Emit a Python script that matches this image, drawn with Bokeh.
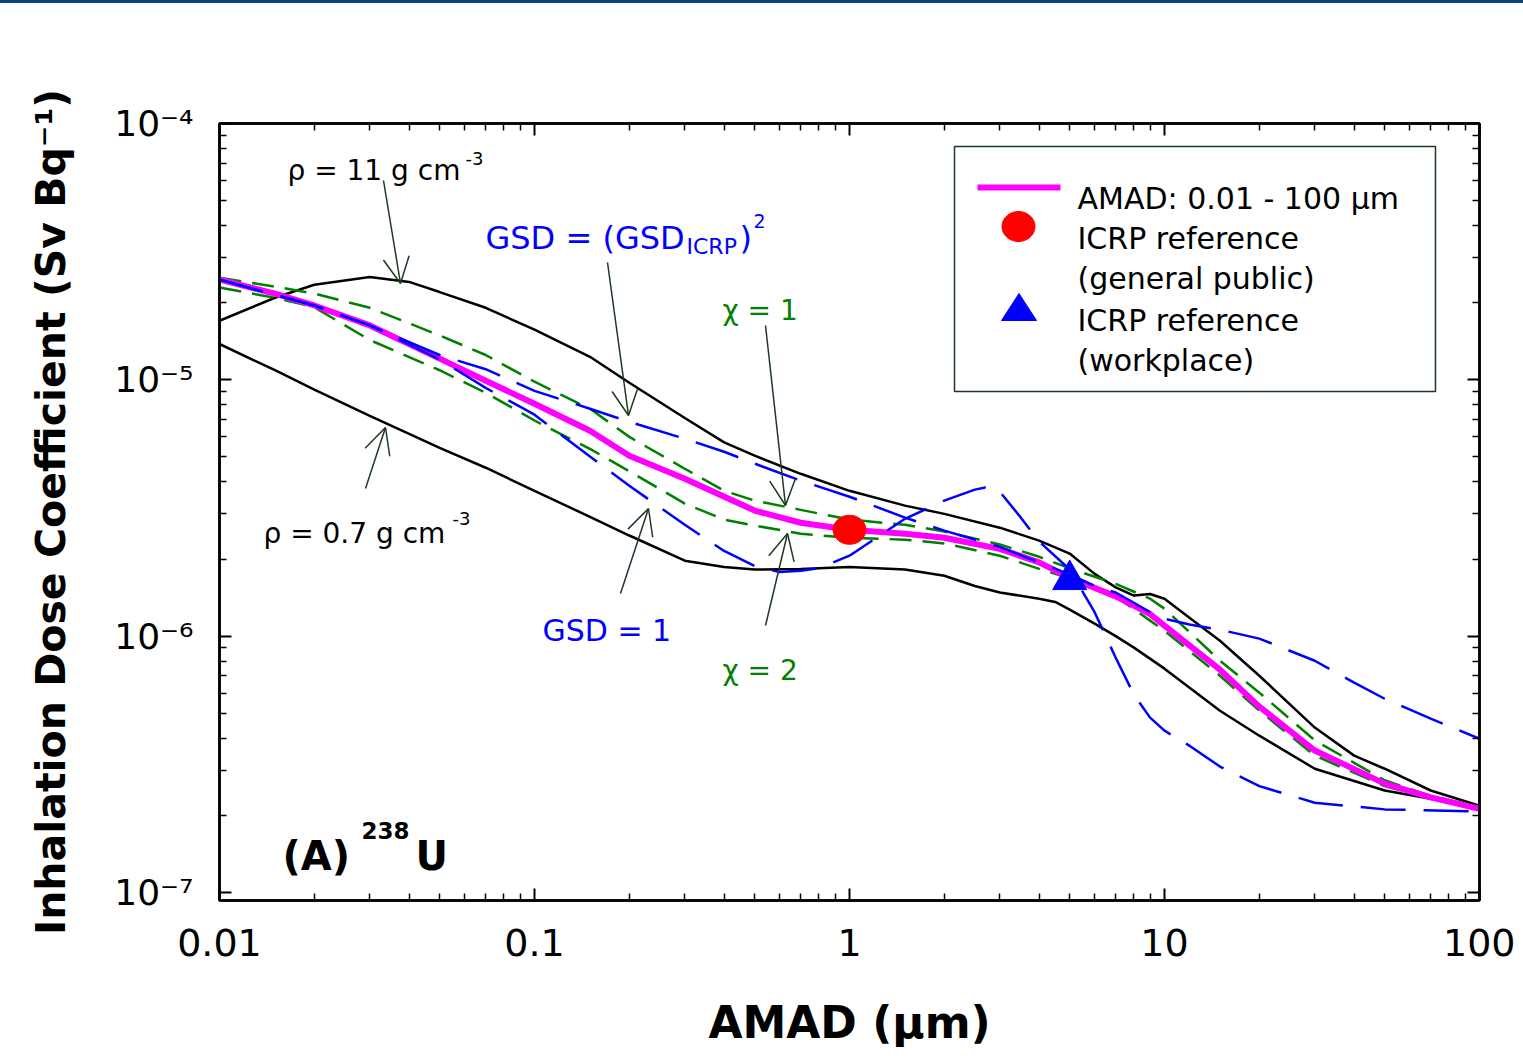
import numpy as np
from bokeh.plotting import figure
from bokeh.models import (Range1d, LogAxis, FixedTicker, CustomJSTickFormatter, Label,
                          Arrow, OpenHead, BoxAnnotation, PolyAnnotation, Div)
from bokeh.layouts import column
from bokeh.embed import file_html
from bokeh.resources import INLINE

# ---------------- data ----------------
amad_x = [0.01, 0.015, 0.02, 0.03, 0.05, 0.07, 0.1, 0.15, 0.2, 0.3, 0.5, 0.7, 1, 1.5, 2, 3, 4, 5, 7, 9, 10, 15, 20, 30, 50, 70, 100]
amad_y = [2.46e-5, 2.17e-5, 1.95e-5, 1.63e-5, 1.21e-5, 9.92e-6, 8.07e-6, 6.33e-6, 5.06e-6, 4.11e-6, 3.09e-6, 2.77e-6, 2.60e-6, 2.51e-6, 2.42e-6, 2.19e-6, 1.94e-6, 1.69e-6, 1.43e-6, 1.22e-6, 1.10e-6, 7.40e-7, 5.31e-7, 3.58e-7, 2.66e-7, 2.35e-7, 2.12e-7]

rho11_x = [0.01, 0.015, 0.02, 0.03, 0.04, 0.05, 0.07, 0.1, 0.15, 0.2, 0.3, 0.4, 0.5, 0.7, 1, 1.5, 2, 3, 4, 5, 6, 7, 8, 9, 10, 12, 15, 20, 30, 40, 50, 70, 100]
rho11_y = [1.70e-5, 2.09e-5, 2.35e-5, 2.52e-5, 2.41e-5, 2.20e-5, 1.91e-5, 1.57e-5, 1.23e-5, 9.74e-6, 7.10e-6, 5.70e-6, 5.06e-6, 4.30e-6, 3.69e-6, 3.23e-6, 3.00e-6, 2.65e-6, 2.36e-6, 2.10e-6, 1.75e-6, 1.55e-6, 1.44e-6, 1.46e-6, 1.40e-6, 1.18e-6, 9.60e-7, 7.01e-7, 4.40e-7, 3.42e-7, 3.04e-7, 2.50e-7, 2.18e-7]

rho07_x = [0.01, 0.015, 0.02, 0.03, 0.04, 0.05, 0.07, 0.1, 0.15, 0.2, 0.3, 0.4, 0.5, 0.7, 1, 1.5, 2, 2.5, 3, 4, 4.5, 5, 6, 7, 8, 10, 15, 20, 30, 50, 70, 100]
rho07_y = [1.38e-5, 1.09e-5, 9.15e-6, 7.24e-6, 6.16e-6, 5.43e-6, 4.54e-6, 3.69e-6, 2.92e-6, 2.47e-6, 1.97e-6, 1.86e-6, 1.82e-6, 1.83e-6, 1.86e-6, 1.82e-6, 1.72e-6, 1.57e-6, 1.48e-6, 1.40e-6, 1.36e-6, 1.27e-6, 1.12e-6, 1.00e-6, 9.02e-7, 7.47e-7, 5.12e-7, 4.09e-7, 3.04e-7, 2.50e-7, 2.32e-7, 2.14e-7]

gsd1_x = [0.01, 0.02, 0.03, 0.05, 0.07, 0.1, 0.15, 0.2, 0.3, 0.4, 0.5, 0.6, 0.7, 0.8, 1, 1.5, 2, 2.5, 2.7, 3, 3.5, 4, 5, 6, 7, 8, 9, 10, 12, 15, 20, 30, 50, 100]
gsd1_y = [2.46e-5, 1.95e-5, 1.63e-5, 1.20e-5, 9.30e-6, 7.31e-6, 5.02e-6, 3.86e-6, 2.72e-6, 2.15e-6, 1.88e-6, 1.78e-6, 1.80e-6, 1.84e-6, 2.06e-6, 2.87e-6, 3.38e-6, 3.73e-6, 3.80e-6, 3.66e-6, 2.90e-6, 2.34e-6, 1.82e-6, 1.24e-6, 8.24e-7, 5.91e-7, 4.81e-7, 4.28e-7, 3.74e-7, 3.10e-7, 2.60e-7, 2.24e-7, 2.11e-7, 2.07e-7]

gsd2_x = [0.01, 0.02, 0.03, 0.05, 0.07, 0.1, 0.15, 0.2, 0.3, 0.4, 0.5, 0.7, 1, 1.5, 2, 3, 4, 5, 6, 7, 8, 9, 10, 12, 15, 20, 30, 40, 50, 70, 100]
gsd2_y = [2.46e-5, 1.95e-5, 1.63e-5, 1.25e-5, 1.10e-5, 9.06e-6, 7.71e-6, 6.86e-6, 5.89e-6, 5.24e-6, 4.71e-6, 4.04e-6, 3.50e-6, 2.90e-6, 2.58e-6, 2.23e-6, 1.94e-6, 1.74e-6, 1.57e-6, 1.48e-6, 1.35e-6, 1.24e-6, 1.17e-6, 1.11e-6, 1.06e-6, 9.78e-7, 8.02e-7, 6.59e-7, 5.70e-7, 4.77e-7, 3.98e-7]

chi_x = [0.01, 0.015, 0.02, 0.03, 0.05, 0.07, 0.1, 0.15, 0.2, 0.3, 0.4, 0.5, 0.7, 1, 1.5, 2, 3, 4, 5, 7, 9, 10, 15, 20, 30, 50, 70, 100]
chi1_y = [2.50e-5, 2.31e-5, 2.17e-5, 1.91e-5, 1.49e-5, 1.25e-5, 9.83e-6, 7.71e-6, 5.99e-6, 4.50e-6, 3.69e-6, 3.38e-6, 3.11e-6, 2.85e-6, 2.72e-6, 2.56e-6, 2.28e-6, 2.04e-6, 1.84e-6, 1.60e-6, 1.40e-6, 1.28e-6, 8.02e-7, 6.02e-7, 3.92e-7, 2.74e-7, 2.38e-7, 2.16e-7]
chi2_y = [2.29e-5, 2.09e-5, 1.92e-5, 1.43e-5, 1.09e-5, 8.91e-6, 6.94e-6, 5.38e-6, 4.40e-6, 3.29e-6, 2.85e-6, 2.70e-6, 2.51e-6, 2.42e-6, 2.38e-6, 2.30e-6, 2.06e-6, 1.83e-6, 1.68e-6, 1.43e-6, 1.15e-6, 1.05e-6, 7.01e-7, 5.12e-7, 3.42e-7, 2.60e-7, 2.32e-7, 2.14e-7]

icrp_public_x = [1.0]
icrp_public_y = [2.60e-6]
icrp_work_x = [5.0]
icrp_work_y = [1.66e-6]

x_major = [0.01, 0.1, 1, 10, 100]
x_labels = ["0.01", "0.1", "1", "10", "100"]
y_major = [1e-7, 1e-6, 1e-5, 1e-4]
y_labels = ["10\u207b\u2077", "10\u207b\u2076", "10\u207b\u2075", "10\u207b\u2074"]

# ---------------- figure ----------------
FONT = "DejaVu Sans"
p = figure(width=1515, height=1062, x_axis_type="log", y_axis_type="log",
           x_range=Range1d(0.01, 100), y_range=Range1d(9.307e-8, 1e-4),
           output_backend="svg", toolbar_location=None,
           min_border_left=219, min_border_right=36, min_border_top=123, min_border_bottom=162)
p.grid.visible = False
p.outline_line_color = "black"
p.outline_line_width = 2.5

xa = p.below[0]
ya = p.left[0]
top = LogAxis()
right = LogAxis()
p.add_layout(top, "above")
p.add_layout(right, "right")

x_minor = [m * 10.0 ** k for k in range(-2, 2) for m in range(2, 10)]
y_minor = [m * 10.0 ** k for k in range(-7, -4) for m in range(2, 10)]

for ax in [xa, top]:
    ax.ticker = FixedTicker(ticks=x_major, minor_ticks=x_minor)
for ax in [ya, right]:
    ax.ticker = FixedTicker(ticks=y_major, minor_ticks=y_minor)

for ax in [xa, ya, top, right]:
    ax.major_tick_in = 12
    ax.major_tick_out = 0
    ax.minor_tick_in = 7
    ax.minor_tick_out = 0
    ax.axis_line_width = 2.5
    ax.major_tick_line_width = 2
    ax.minor_tick_line_width = 1.5
    ax.major_label_text_font = FONT
    ax.major_label_text_color = "black"

for ax in [top, right]:
    ax.formatter = CustomJSTickFormatter(code="return ''")
    ax.major_label_standoff = 0
    ax.major_label_text_font_size = "1px"

LOOKUP = ("const i = tv.findIndex(t => Math.abs(Math.log10(t) - Math.log10(tick)) < 1e-6);"
          " return i >= 0 ? lv[i] : '';")
xa.formatter = CustomJSTickFormatter(args=dict(tv=x_major, lv=x_labels), code=LOOKUP)
xa.major_label_text_font_size = "38px"
xa.major_label_standoff = 28
xa.axis_label = "AMAD (\u03bcm)"
xa.axis_label_text_font = FONT
xa.axis_label_text_font_style = "bold"
xa.axis_label_text_font_size = "44px"
xa.axis_label_text_color = "black"
xa.axis_label_standoff = 38

ya.formatter = CustomJSTickFormatter(args=dict(tv=y_major, lv=y_labels), code=LOOKUP)
ya.major_label_text_font_size = "36px"
ya.major_label_standoff = 26
ya.axis_label = "Inhalation Dose Coefficient (Sv Bq\u207b\u00b9)"
ya.axis_label_text_font = FONT
ya.axis_label_text_font_style = "bold"
ya.axis_label_text_font_size = "41px"
ya.axis_label_text_color = "black"
ya.axis_label_standoff = 36

# ---------------- curves ----------------
p.line(rho11_x, rho11_y, line_color="black", line_width=2.5)
p.line(rho07_x, rho07_y, line_color="black", line_width=2.5)
p.line(chi_x, chi1_y, line_color="#008000", line_width=2.5, line_dash="22 11")
p.line(chi_x, chi2_y, line_color="#008000", line_width=2.5, line_dash="22 11")
p.line(amad_x, amad_y, line_color="#ff00ff", line_width=6)
p.line(gsd2_x, gsd2_y, line_color="#0000ff", line_width=2.5, line_dash="45 18")
p.line(gsd1_x, gsd1_y, line_color="#0000ff", line_width=2.5, line_dash="45 18")
p.ellipse(x=icrp_public_x, y=icrp_public_y, width=33, height=29,
          width_units="screen", height_units="screen", fill_color="#ff0000", line_color="#ff0000")
p.scatter(x=icrp_work_x, y=icrp_work_y, marker="triangle", size=34,
          fill_color="#0000ff", line_color="#0000ff")

# ---------------- annotation texts (screen coords relative to frame) ----------------
def lab(x, y, text, size, color="black", style="normal", baseline="alphabetic"):
    p.add_layout(Label(x=x, y=y, x_units="screen", y_units="screen", text=text,
                       text_font=FONT, text_font_size=size, text_color=color,
                       text_font_style=style, text_baseline=baseline, text_align="left"))

lab(68, 730, "\u03c1 = 11 g cm", "28px")
lab(246, 742, "-3", "18px")
lab(266, 663, "GSD = (GSD", "32px", "#0000ff")
lab(467, 654, "ICRP", "22px", "#0000ff")
lab(520, 663, ")", "32px", "#0000ff")
lab(534, 680, "2", "19px", "#0000ff")
lab(503, 590, "\u03c7 = 1", "28px", "#008000")
lab(44, 367, "\u03c1 = 0.7 g cm", "28px")
lab(233, 382, "-3", "18px")
lab(323, 270, "GSD = 1", "30px", "#0000ff")
lab(503, 230, "\u03c7 = 2", "28px", "#008000")
lab(63, 45, "(A)", "40px", style="bold")
lab(142, 70, "238", "23px", style="bold")
lab(196, 45, "U", "40px", style="bold")

ARC = "#1e3a1e"
arrows = [((164, 720), (181, 617)), ((388, 638), (409, 485)), ((546, 575), (566, 395)),
          ((146, 412), (166, 473)), ((401, 307), (429, 392)), ((546, 275), (568, 367))]
for (xs, ys), (xe, ye) in arrows:
    p.add_layout(Arrow(x_start=xs, y_start=ys, x_end=xe, y_end=ye,
                       start_units="screen", end_units="screen",
                       line_color=ARC, line_width=1.5,
                       end=OpenHead(size=26, line_color=ARC, line_width=1.5)))

# ---------------- legend (drawn by hand) ----------------
p.add_layout(BoxAnnotation(left=735, right=1216, bottom=509, top=754,
                           left_units="screen", right_units="screen",
                           bottom_units="screen", top_units="screen",
                           fill_color="white", fill_alpha=1.0,
                           line_color=ARC, line_alpha=1.0, line_width=1.5))
p.add_layout(Arrow(x_start=758, y_start=713, x_end=841, y_end=713,
                   start_units="screen", end_units="screen", start=None, end=None,
                   line_color="#ff00ff", line_width=6))
th = np.linspace(0, 2 * np.pi, 48)
p.add_layout(PolyAnnotation(xs=list(799 + 16.5 * np.cos(th)), ys=list(674 + 15 * np.sin(th)),
                            xs_units="screen", ys_units="screen",
                            fill_color="#ff0000", fill_alpha=1.0, line_color="#ff0000", line_alpha=1.0))
p.add_layout(PolyAnnotation(xs=[782, 817, 799.5], ys=[580, 580, 607],
                            xs_units="screen", ys_units="screen",
                            fill_color="#0000ff", fill_alpha=1.0, line_color="#0000ff", line_alpha=1.0))
lab(858, 702, "AMAD: 0.01 - 100 \u03bcm", "30px")
lab(858, 662, "ICRP reference", "30px")
lab(858, 622, "(general public)", "30px")
lab(858, 580, "ICRP reference", "30px")
lab(858, 540, "(workplace)", "30px")

bar = Div(text="", width=1515, height=3, margin=0,
          styles={"position": "fixed", "top": "0px", "left": "0px", "width": "1523px",
                  "height": "3px", "background-color": "#0a4375", "z-index": "10"})

layout = column(bar, p)
open("out.html", "w").write(file_html(layout, INLINE))
